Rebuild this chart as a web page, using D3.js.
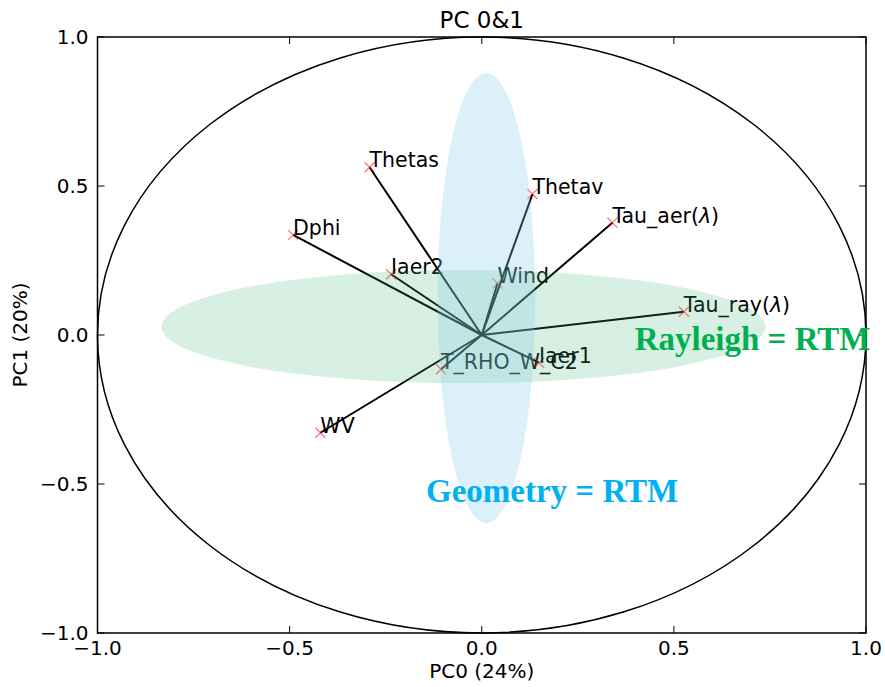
<!DOCTYPE html>
<html><head><meta charset="utf-8">
<script src="https://cdn.jsdelivr.net/npm/d3@7"></script>
<style>body{margin:0;background:#fff;} svg{display:block;}</style>
</head><body>
<svg id="c" width="885" height="687"></svg>
<script>
const variables = ["Thetas","Dphi","Iaer2","Wind","Thetav","Tau_aer(\u03bb)","Tau_ray(\u03bb)","T_RHO_W_C2","Iaer1","WV"];
const pc0 = [-0.292,-0.491,-0.236,0.041,0.132,0.340,0.526,-0.106,0.149,-0.420];
const pc1 = [0.563,0.336,0.204,0.173,0.473,0.377,0.078,-0.115,-0.093,-0.328];
const tickValues = [-1.0,-0.5,0.0,0.5,1.0];
const ellipseNames = ["Rayleigh = RTM","Geometry = RTM"];
const ellipseCx = [-0.047,0.012];
const ellipseCy = [0.028,0.124];
const ellipseRx = [0.786,0.127];
const ellipseRy = [0.190,0.755];
const ellipseFill = ["rgb(60,179,113)","rgb(135,206,235)"];
const ellipseOpacity = [0.2,0.3];
const noteColor = ["#00b050","#00b0f0"];
const noteX = [0.398,-0.145];
const noteY = [-0.05,-0.56];

const svg = d3.select("#c");
const L=97.5,R=866,T=37,B=633;
const x = d3.scaleLinear().domain([-1,1]).range([L,R]);
const y = d3.scaleLinear().domain([-1,1]).range([B,T]);
const font = "'DejaVu Sans', sans-serif";

// unit circle
svg.append("ellipse").attr("cx",x(0)).attr("cy",y(0))
  .attr("rx",x(1)-x(0)).attr("ry",y(0)-y(1))
  .attr("fill","none").attr("stroke","#000").attr("stroke-width",1.5);

// vectors
const g = svg.append("g");
variables.forEach((v,i)=>{
  g.append("line").attr("x1",x(0)).attr("y1",y(0)).attr("x2",x(pc0[i])).attr("y2",y(pc1[i]))
    .attr("stroke","#000").attr("stroke-width",2);
});
variables.forEach((v,i)=>{
  const px=x(pc0[i]), py=y(pc1[i]), s=5;
  g.append("path").attr("d",`M${px-s},${py-s}L${px+s},${py+s}M${px-s},${py+s}L${px+s},${py-s}`)
    .attr("stroke","red").attr("stroke-opacity",0.55).attr("stroke-width",1.2).attr("fill","none");
  const t = g.append("text").attr("x",px).attr("y",py)
    .attr("font-family",font).attr("font-size",20.5).attr("fill","#000");
  const parts = v.split("\u03bb");
  t.append("tspan").text(parts[0]);
  if (parts.length>1){
    t.append("tspan").attr("font-style","italic").text("\u03bb");
    t.append("tspan").text(parts[1]);
  }
});

// ellipses on top
ellipseNames.forEach((n,i)=>{
  svg.append("ellipse").attr("cx",x(ellipseCx[i])).attr("cy",y(ellipseCy[i]))
    .attr("rx",x(ellipseRx[i])-x(0)).attr("ry",y(0)-y(ellipseRy[i]))
    .attr("fill",ellipseFill[i]).attr("fill-opacity",ellipseOpacity[i]);
});

// frame
svg.append("rect").attr("x",L).attr("y",T).attr("width",R-L).attr("height",B-T)
  .attr("fill","none").attr("stroke","#000").attr("stroke-width",1.5);

// ticks (inward, all sides)
const tk = svg.append("g").attr("stroke","#000").attr("stroke-width",1);
tickValues.forEach(t=>{
  tk.append("line").attr("x1",x(t)).attr("x2",x(t)).attr("y1",B).attr("y2",B-7);
  tk.append("line").attr("x1",x(t)).attr("x2",x(t)).attr("y1",T).attr("y2",T+7);
  tk.append("line").attr("y1",y(t)).attr("y2",y(t)).attr("x1",L).attr("x2",L+7);
  tk.append("line").attr("y1",y(t)).attr("y2",y(t)).attr("x1",R).attr("x2",R-7);
});
const fmt = d => (d<0?"\u2212":"")+Math.abs(d).toFixed(1);
tickValues.forEach(t=>{
  svg.append("text").attr("x",x(t)).attr("y",B+22).attr("text-anchor","middle")
    .attr("font-family",font).attr("font-size",20).text(fmt(t));
  svg.append("text").attr("x",L-9).attr("y",y(t)).attr("dy","0.36em").attr("text-anchor","end")
    .attr("font-family",font).attr("font-size",20).text(fmt(t));
});

// titles
svg.append("text").attr("x",(L+R)/2).attr("y",28).attr("text-anchor","middle")
  .attr("font-family",font).attr("font-size",23).text("PC 0&1");
svg.append("text").attr("x",(L+R)/2).attr("y",678).attr("text-anchor","middle")
  .attr("font-family",font).attr("font-size",20).text("PC0 (24%)");
svg.append("text").attr("transform",`translate(27,${(T+B)/2}) rotate(-90)`).attr("text-anchor","middle")
  .attr("font-family",font).attr("font-size",20).text("PC1 (20%)");

// annotations
ellipseNames.forEach((n,i)=>{
  svg.append("text").attr("x",x(noteX[i])).attr("y",y(noteY[i])).text(n)
    .attr("font-family","'Liberation Serif', serif").attr("font-weight","bold")
    .attr("font-size",33).attr("fill",noteColor[i]);
});
</script>
</body></html>
